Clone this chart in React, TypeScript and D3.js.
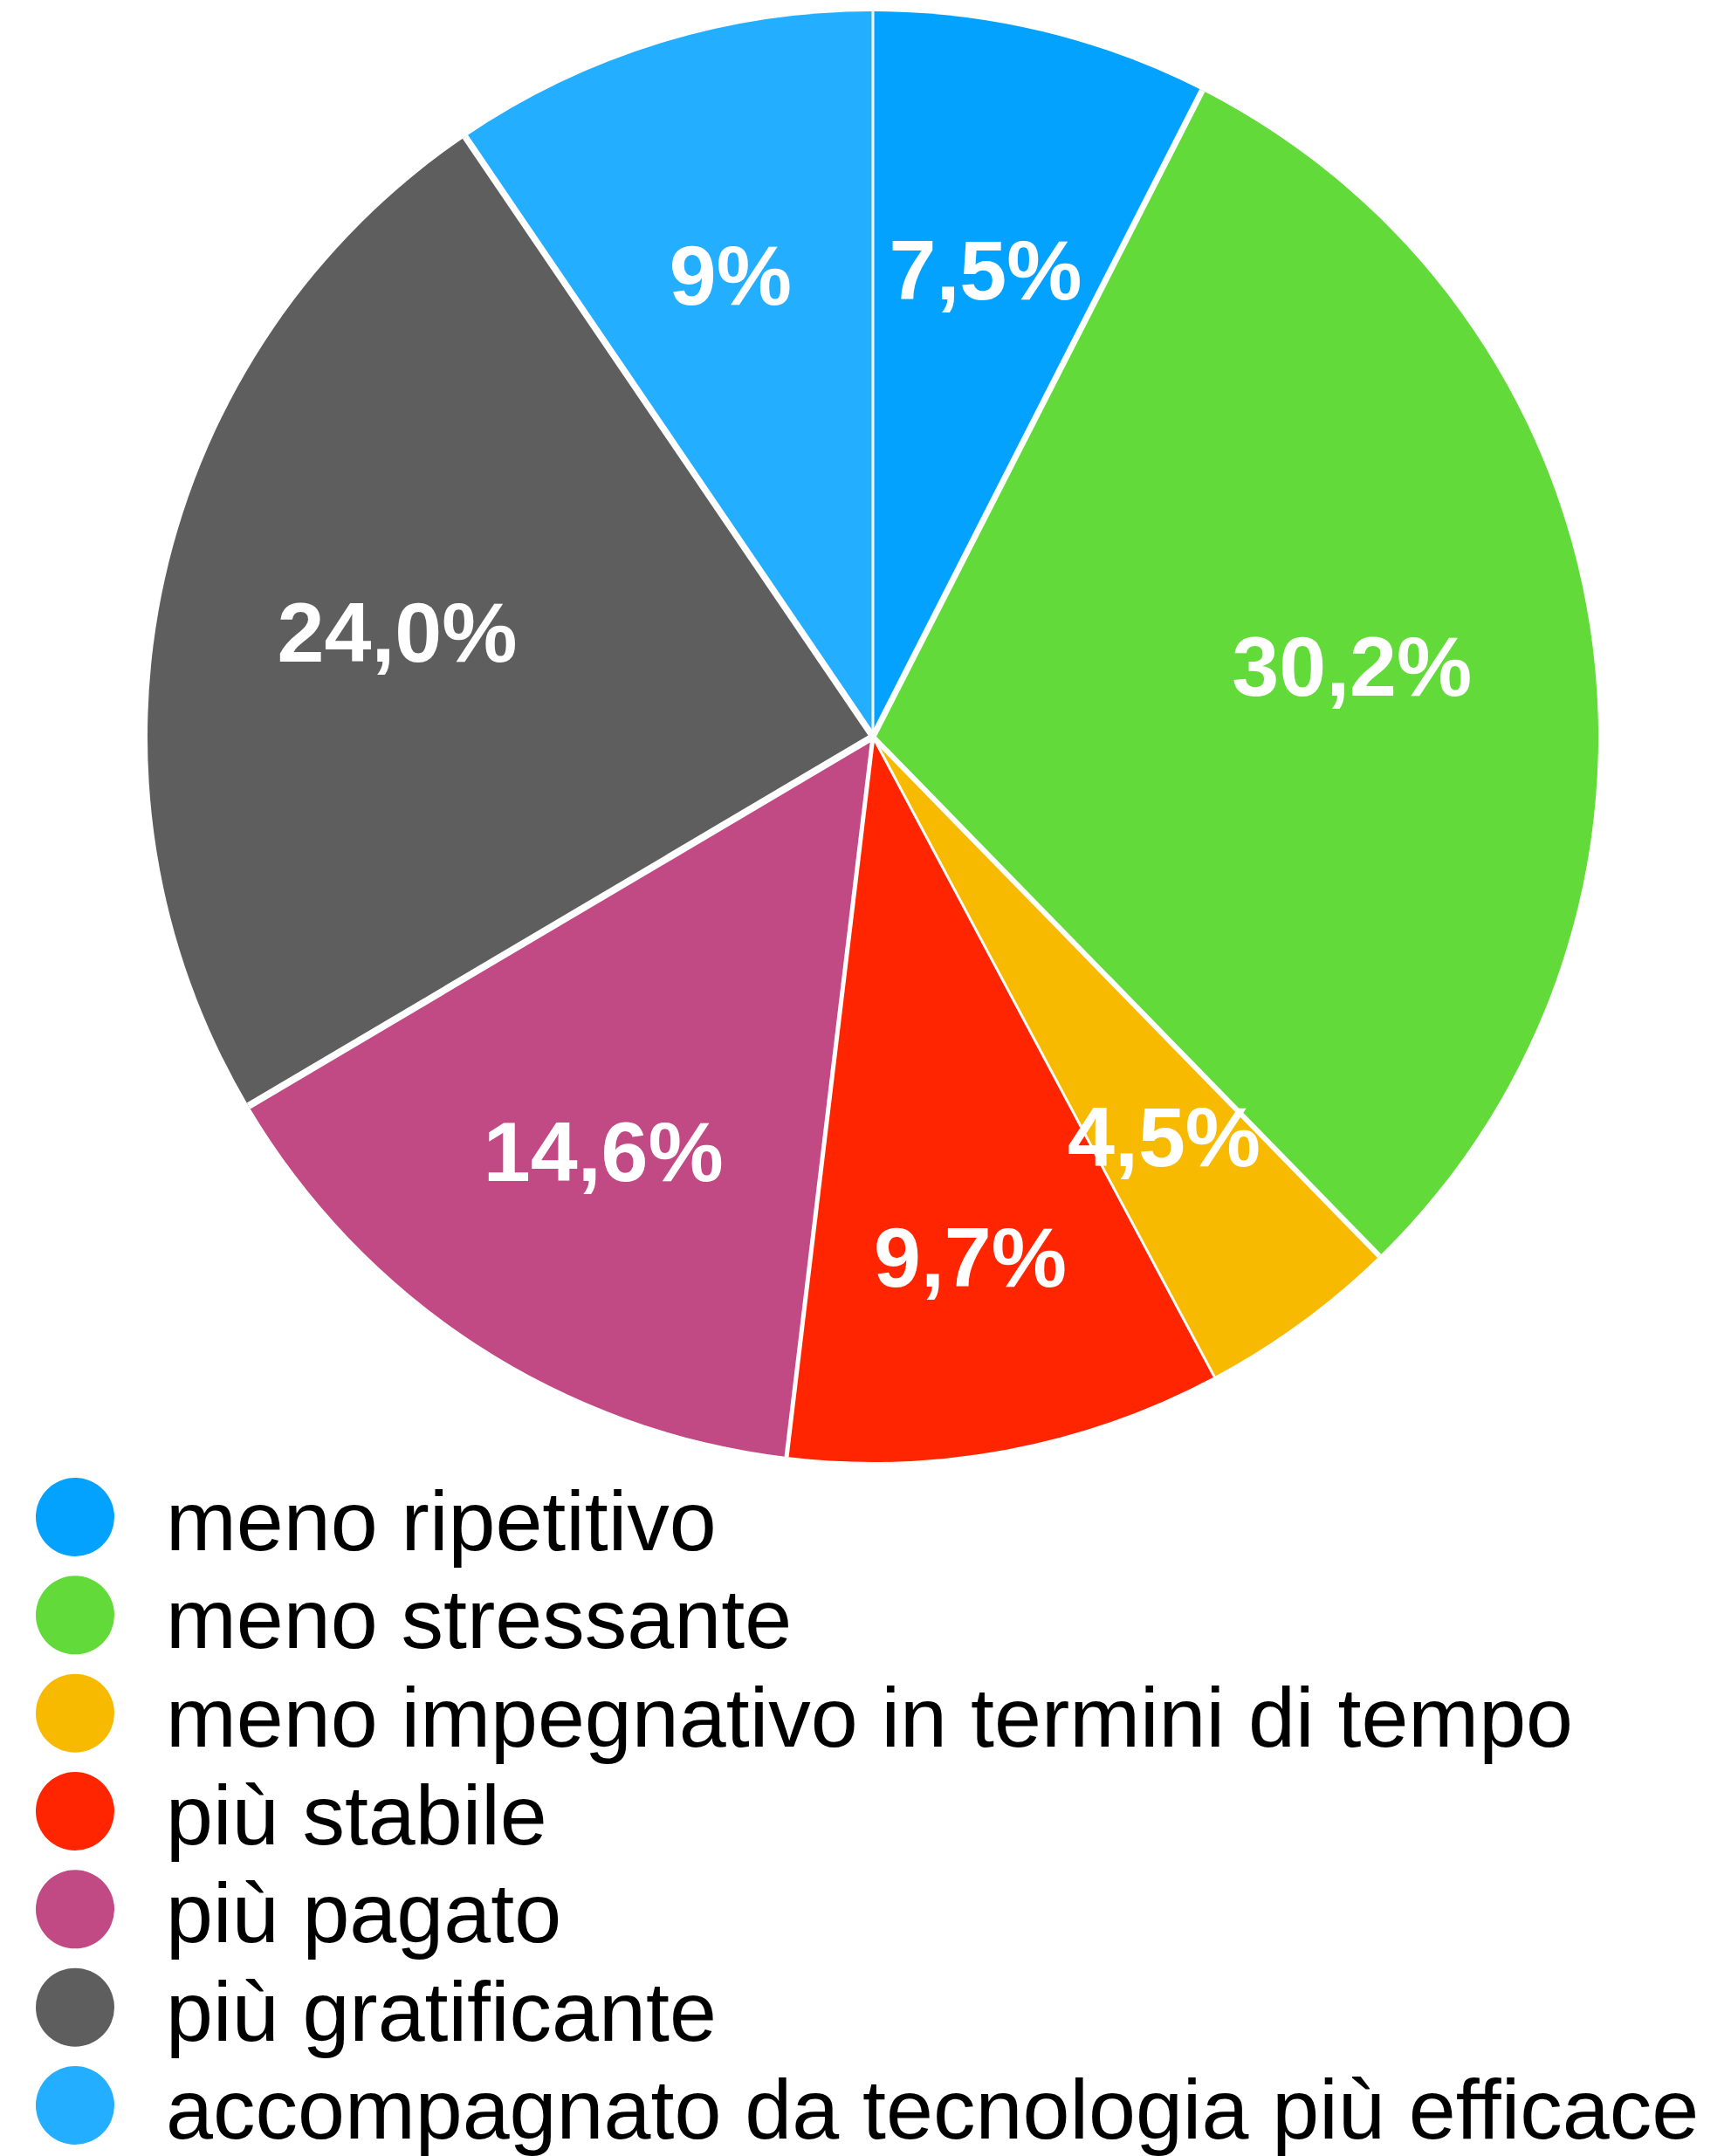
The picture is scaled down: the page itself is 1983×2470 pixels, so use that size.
import React from "react";
import * as d3 from "d3";

const categories = [
  "meno ripetitivo",
  "meno stressante",
  "meno impegnativo in termini di tempo",
  "più stabile",
  "più pagato",
  "più gratificante",
  "accompagnato da tecnologia più efficace",
];
const values = [7.5, 30.2, 4.5, 9.7, 14.6, 24.0, 9.5];
const valueLabels = ["7,5%", "30,2%", "4,5%", "9,7%", "14,6%", "24,0%", "9%"];
const colors = ["#03A2FF", "#62DA39", "#F8BA00", "#FF2500", "#C14984", "#5E5E5E", "#24AEFF"];
// white separator width at the start edge of each slice
const separatorWidths = [3, 7, 6, 3, 5, 8, 7.5];
// label distance from the centre, as a fraction of the radius
const labelRadius = [0.665, 0.668, 0.68, 0.728, 0.68, 0.672, 0.668];

const W = 1983;
const H = 2470;
const CX = 1000;
const CY = 844;
const R = 831;

export default function App() {
  const pie = d3
    .pie<number>()
    .sort(null)
    .value((d) => d)
    .startAngle(0)
    .endAngle(2 * Math.PI);
  const arcs = pie(values);
  const arc = d3.arc<d3.PieArcDatum<number>>().innerRadius(0).outerRadius(R);

  const legendY = d3
    .scaleLinear()
    .domain([0, categories.length - 1])
    .range([1776, 2450]);

  const labelFs = 97;
  const legendFs = 97;

  return (
    <svg
      width={W}
      height={H}
      viewBox={`0 0 ${W} ${H}`}
      style={{ position: "absolute", left: 0, top: 0, display: "block", background: "#fff" }}
    >
      <g transform={`translate(${CX},${CY})`}>
        {arcs.map((a, i) => (
          <path key={i} d={arc(a) || ""} fill={colors[i]} />
        ))}
        {arcs.map((a, i) => {
          const ang = a.startAngle;
          const x = Math.sin(ang) * R;
          const y = -Math.cos(ang) * R;
          return (
            <line
              key={"s" + i}
              x1={0}
              y1={0}
              x2={x}
              y2={y}
              stroke="#fff"
              strokeWidth={separatorWidths[i]}
            />
          );
        })}
        {arcs.map((a, i) => {
          const lr = R * labelRadius[i];
          const la = d3.arc<d3.PieArcDatum<number>>().innerRadius(lr).outerRadius(lr);
          const [x, y] = la.centroid(a);
          return (
            <text
              key={"l" + i}
              x={x}
              y={y + labelFs * 0.37}
              textAnchor="middle"
              fill="#fff"
              fontFamily="'Liberation Sans', Arial, Helvetica, sans-serif"
              fontWeight="bold"
              fontSize={labelFs}
            >
              {valueLabels[i]}
            </text>
          );
        })}
      </g>
      {categories.map((c, i) => {
        const by = legendY(i);
        return (
          <g key={"lg" + i}>
            <circle cx={86} cy={by - 38} r={45} fill={colors[i]} />
            <text
              x={190}
              y={by}
              fill="#000"
              fontFamily="'Liberation Sans', Arial, Helvetica, sans-serif"
              fontSize={legendFs}
            >
              {c}
            </text>
          </g>
        );
      })}
    </svg>
  );
}
